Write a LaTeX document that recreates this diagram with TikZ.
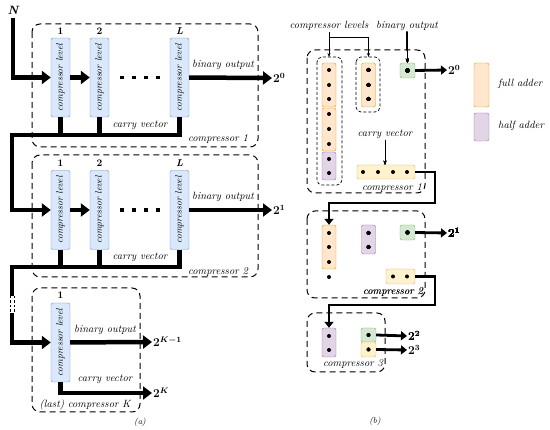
\documentclass[tikz,border=0pt]{standalone}
\usetikzlibrary{arrows.meta}
\definecolor{lvF}{HTML}{DAE8FC}\definecolor{lvD}{HTML}{6C8EBF}
\definecolor{faF}{HTML}{FFE6CC}\definecolor{faD}{HTML}{D79B00}
\definecolor{haF}{HTML}{E1D5E7}\definecolor{haD}{HTML}{9673A6}
\definecolor{grF}{HTML}{D5E8D4}\definecolor{grD}{HTML}{82B366}
\definecolor{cvF}{HTML}{FFF2CC}\definecolor{cvD}{HTML}{D6B656}
\tikzset{
  lvl/.style={draw=lvD,fill=lvF,rounded corners=2,minimum width=19,minimum height=79,inner sep=0,font=\fontsize{9.5}{10}\selectfont\itshape},
  dbox/.style={dashed,dash pattern=on 6pt off 4pt,rounded corners=8,line width=1},
  gbox/.style={dashed,dash pattern=on 3pt off 2pt,rounded corners=5,line width=0.7},
  big/.style={line width=4.5,-{Triangle[length=9,width=13]}},
  bigl/.style={line width=4.5},
  med/.style={line width=2.8,-{Triangle[length=6,width=9]}},
  medl/.style={line width=2.8},
  tarrow/.style={line width=0.6,-{Stealth[length=4,width=3]}},
  lab/.style={font=\fontsize{10.5}{11}\selectfont\itshape,inner sep=1},
  num/.style={font=\fontsize{10}{11}\selectfont\bfseries,inner sep=1},
  outl/.style={font=\fontsize{12}{13}\selectfont\boldmath,inner sep=1,anchor=west},
  fa/.style={draw=faD,fill=faF,rounded corners=2,inner sep=0,minimum width=14},
  ha/.style={draw=haD,fill=haF,rounded corners=2,inner sep=0,minimum width=14},
  gr/.style={draw=grD,fill=grF,rounded corners=2,inner sep=0,minimum width=15,minimum height=15},
  cv/.style={draw=cvD,fill=cvF,rounded corners=2,inner sep=0,minimum height=14},
}
\newcommand{\dotat}[2]{\fill (#1,#2) circle (2);}
\begin{document}
\begin{tikzpicture}[x=1pt,y=-1pt]
\useasboundingbox (0,0) rectangle (550,430);
% ---------------- panel (a) ----------------
\node[font=\fontsize{12}{13}\selectfont\bfseries\itshape] (N) at (13,10) {N};
% compressor 1
\draw[dbox] (32,24) rectangle (258,147);
\node[lvl] (a11) at (60.5,77.5) {\rotatebox{90}{compressor level}};
\node[lvl] (a12) at (99.5,77.5) {\rotatebox{90}{compressor level}};
\node[lvl] (a1L) at (179.5,77.5) {\rotatebox{90}{compressor level}};
\node[num] (n11) at (60.5,31) {1};
\node[num] (n12) at (99.5,31) {2};
\node[num,font=\fontsize{10}{11}\selectfont\bfseries\itshape] (n1L) at (179.5,31) {L};
\draw[big] (N.south) |- (a11);
\draw[big] (a11) -- (a12);
\foreach \x in {122,134,146,158} \fill (\x-1.9,75.6) rectangle (\x+1.9,79.4);
\node[outl] (o1) at (272,78) {$2^0$};
\draw[big] (a1L) -- (o1.west);
\node[lab] (bo1) at (223,65) {binary output};
\node[lab] (cv1) at (140,125) {carry vector};
\node[lab] (c1) at (218,139) {compressor 1};
% compressor 2
\draw[dbox] (32,155) rectangle (258,277);
\node[lvl] (a21) at (60.5,210) {\rotatebox{90}{compressor level}};
\node[lvl] (a22) at (99.5,210) {\rotatebox{90}{compressor level}};
\node[lvl] (a2L) at (179.5,210) {\rotatebox{90}{compressor level}};
\node[num] (n21) at (60.5,163) {1};
\node[num] (n22) at (99.5,163) {2};
\node[num,font=\fontsize{10}{11}\selectfont\bfseries\itshape] (n2L) at (179.5,163) {L};
\draw[bigl] (a11.south) -- (a11.south |- 0,135);
\draw[bigl] (a12.south) -- (a12.south |- 0,135);
\draw[big] (a1L.south) |- (12,135) |- (a21);
\draw[big] (a21) -- (a22);
\foreach \x in {122,134,146,158} \fill (\x-1.9,208.1) rectangle (\x+1.9,211.9);
\node[outl] (o2) at (272,210) {$2^1$};
\draw[big] (a2L) -- (o2.west);
\node[lab] (bo2) at (223,197) {binary output};
\node[lab] (cv2) at (140,257) {carry vector};
\node[lab] (c2) at (218,272) {compressor 2};
% compressor K
\draw[dbox] (32,288) rectangle (140,412);
\node[lvl] (aK1) at (60.5,342.5) {\rotatebox{90}{compressor level}};
\node[num] (nK1) at (60.5,295) {1};
\draw[bigl] (a21.south) -- (a21.south |- 0,267);
\draw[bigl] (a22.south) -- (a22.south |- 0,267);
\coordinate (g1) at (12,296);
\coordinate (g2) at (12,313);
\draw[bigl] (a2L.south) |- (12,267) -- (g1);
\draw[dashed,dash pattern=on 2.5pt off 2pt,line width=0.6] (9.9,296) -- (9.9,313) (14.1,296) -- (14.1,313);
\draw[big] (g2) |- (aK1);
\node[outl] (oK1) at (152,342) {$2^{K-1}$};
\node[outl] (oK) at (152,393) {$2^{K}$};
\draw[big] (aK1) -- (oK1.west);
\draw[big] (aK1.south) |- (oK.west);
\node[lab] (boK) at (105,330) {binary output};
\node[lab] (cvK) at (105,379) {carry vector};
\node[lab] (cK) at (85,405) {(last) compressor \textit{K}};
\node[lab,font=\fontsize{8.5}{9}\selectfont\itshape] (pa) at (140,422) {(a)};
% ---------------- panel (b) ----------------
\node[lab] (cl) at (329,26) {compressor levels};
\node[lab] (bob) at (407,26) {binary output};
% compressor 1
\draw[dbox] (307,50) rectangle (425,193);
\draw[gbox] (317,57) rectangle (342,185);
\draw[gbox] (356,57) rectangle (380,112);
\coordinate (grp1) at (329,57);
\coordinate (grp2) at (368.5,57);
\coordinate (j1) at (329,37);
\coordinate (j2) at (368.5,37);
\draw[tarrow] (cl.south) -- (grp1);
\draw[tarrow] (j1) -- (j2) -- (grp2);
\node[fa,minimum height=44] (fa1) at (329,85) {};
\node[fa,minimum height=43] (fa2) at (329,129.5) {};
\node[ha,minimum height=28] (ha1) at (329,166) {};
\node[fa,minimum height=44] (fa3) at (368.5,85) {};
\node[gr] (gb1) at (407.5,70.5) {};
\foreach \y in {70,85,99,114,129,144,159,173} \dotat{329}{\y}
\foreach \y in {70,85,99} \dotat{368.5}{\y}
\dotat{407.5}{70.5}
\draw[tarrow] (bob.south) -- (gb1.north);
\node[outl] (ob1) at (447,70) {$2^0$};
\draw[med] (gb1.east) -- (ob1.west);
\node[lab] (cvb) at (385,134) {carry vector};
\node[cv,minimum width=58] (cvb1) at (386,172) {};
\foreach \x in {363,378,393,407} \dotat{\x}{172}
\draw[tarrow] (cvb.south) -- (cvb.south |- cvb1.north);
\node[lab] (cb1) at (392,188) {compressor 1};
% compressor 2
\draw[dbox] (307,211) rectangle (425,298);
\node[fa,minimum height=44] (fa4) at (329,247) {};
\node[ha,minimum height=29] (ha2) at (368.5,239.5) {};
\node[gr] (gb2) at (407.5,232.5) {};
\foreach \y in {233,247,262,277} \dotat{329}{\y}
\foreach \y in {233,247} \dotat{368.5}{\y}
\dotat{407.5}{232.5}
\node[outl] (ob2) at (447,233) {$2^1$};
\draw[med] (gb2.east) -- (ob2.west);
\node[cv,minimum width=29,minimum height=15] (cvb2) at (400.5,276.5) {};
\foreach \x in {393,407} \dotat{\x}{276.5}
\node[lab] (cb2) at (393,292) {compressor 2};
\draw[med] (cvb1.east) -| (435,203) -| (fa4.north);
% compressor 3
\draw[dbox] (307,313) rectangle (385,372);
\node[ha,minimum height=29] (ha3) at (329,342.5) {};
\node[gr,minimum height=14] (gb3) at (368.5,335) {};
\node[cv,minimum width=15,minimum height=15] (cvb3) at (368.5,349.5) {};
\foreach \y in {336,350} \dotat{329}{\y}
\dotat{368.5}{335}
\dotat{368.5}{349.5}
\node[outl] (ob3) at (407,336) {$2^2$};
\node[outl] (ob4) at (407,350) {$2^3$};
\draw[med] (gb3.east) -- (ob3.west);
\draw[med] (cvb3.east) -- (ob4.west);
\node[lab] (cb3) at (353,364) {compressor 3};
\draw[med] (cvb2.east) -| (435,305) -| (ha3.north);
\node[lab,font=\fontsize{8.5}{9}\selectfont\itshape] (pb) at (375,421) {(b)};
% legend
\node[fa,minimum width=15,minimum height=44] (lfa) at (481.5,85) {};
\node[ha,minimum width=15,minimum height=28] (lha) at (481.5,127) {};
\node[lab,anchor=west] (tfa) at (497,84) {full adder};
\node[lab,anchor=west] (tha) at (497,126) {half adder};
\end{tikzpicture}
\end{document}
